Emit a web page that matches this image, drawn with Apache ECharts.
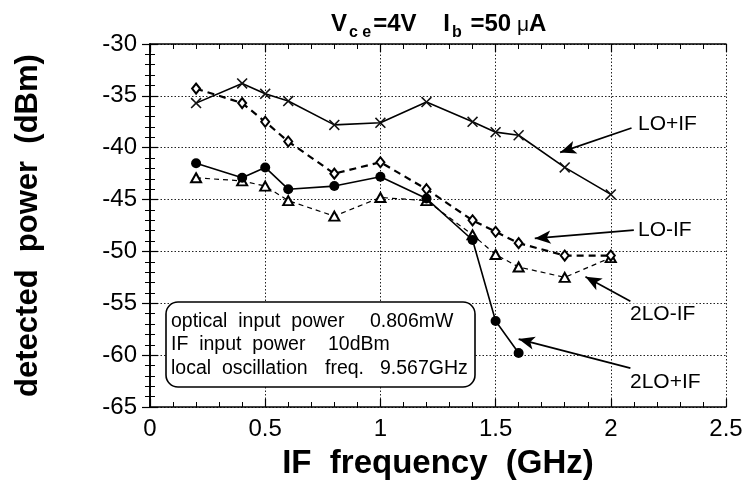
<!DOCTYPE html>
<html>
<head>
<meta charset="utf-8">
<script src="https://cdn.jsdelivr.net/npm/echarts@6/dist/echarts.min.js"></script>
<style>html,body{margin:0;padding:0;background:#fff;}#c{width:748px;height:485px;}</style>
</head>
<body>
<div id="c"></div>
<script>
// ---- data ----
var freqA = [0.2, 0.4, 0.5, 0.6, 0.8, 1.0, 1.2, 1.4, 1.5, 1.6, 1.8, 2.0];
var loPlusIF = [-35.7, -33.8, -34.8, -35.5, -37.8, -37.6, -35.6, -37.5, -38.5, -38.8, -41.9, -44.5];
var loMinusIF = [-34.3, -35.7, -37.5, -39.4, -42.5, -41.4, -44.0, -47.0, -48.1, -49.2, -50.4, -50.4];
var twoLoMinusIF = [-42.9, -43.2, -43.7, -45.1, -46.6, -44.8, -45.1, -48.4, -50.3, -51.5, -52.5, -50.6];
var freqB = [0.2, 0.4, 0.5, 0.6, 0.8, 1.0, 1.2, 1.4, 1.5, 1.6];
var twoLoPlusIF = [-41.5, -42.9, -41.9, -44.0, -43.7, -42.8, -44.9, -48.9, -56.7, -59.8];
var xTicks = ['0', '0.5', '1', '1.5', '2', '2.5'];
var yTicks = ['-65', '-60', '-55', '-50', '-45', '-40', '-35', '-30'];
// annotation arrows: [from, to] in data units
var arrowLOplus = [[2.09, -38.1], [1.78, -40.45]];
var arrowLOminus = [[2.10, -47.95], [1.67, -48.75]];
var arrow2LOminus = [[2.085, -54.8], [1.89, -52.45]];
var arrow2LOplus = [[2.085, -61.25], [1.60, -58.45]];
var infoLine1 = ['optical  input  power', '0.806mW'];
var infoLine2 = ['IF  input  power', '10dBm'];
var infoLine3 = ['local  oscillation', 'freq.', '9.567GHz'];

function pairs(xs, ys) { return xs.map(function (x, i) { return [x, ys[i]]; }); }
function arrow(a) {
  return {
    data: [[{ coord: a[0] }, { coord: a[1] }]],
    symbol: ['none', 'arrow'], symbolSize: [10, 16], silent: true,
    lineStyle: { color: '#000', width: 1.7, type: 'solid' }, label: { show: false }
  };
}

var FONT = 'Liberation Sans, Arial, Helvetica, sans-serif';
var chart = echarts.init(document.getElementById('c'), null, { renderer: 'canvas' });

var baseAxisLine = { show: true, lineStyle: { color: '#000', width: 1.6 } };
var crossPath = 'path://M0,1L1,0L5,4L9,0L10,1L6,5L10,9L9,10L5,6L1,10L0,9L4,5Z';
function infoText(x, y, t) {
  return { type: 'text', x: x, y: y, z: 4, style: { text: t, font: '19.5px ' + FONT, fill: '#000', verticalAlign: 'middle' } };
}

var option = {
  backgroundColor: '#fff',
  animation: false,
  grid: { left: 150, right: 22, top: 44, bottom: 68 },
  xAxis: [{
    type: 'value', min: 0, max: 2.5, interval: 0.5, position: 'bottom',
    name: 'IF  frequency  (GHz)', nameLocation: 'middle', nameGap: 40,
    nameTextStyle: { fontFamily: FONT, fontSize: 33, fontWeight: 'bold', color: '#000' },
    axisLine: baseAxisLine,
    axisTick: { show: true, inside: true, length: 8, lineStyle: { color: '#000', width: 1.2 } },
    minorTick: { show: true, splitNumber: 5, length: 5, lineStyle: { color: '#000', width: 1 } },
    axisLabel: { fontFamily: FONT, fontSize: 24, color: '#000', margin: 10,
      formatter: function (v) { return xTicks[Math.round(v / 0.5)]; } },
    splitLine: { show: true, lineStyle: { color: '#222', width: 1, type: [1.5, 2] } }
  }, {
    type: 'value', min: 0, max: 2.5, interval: 0.5, position: 'top',
    axisLine: baseAxisLine,
    axisTick: { show: true, inside: true, length: 8, lineStyle: { color: '#000', width: 1.2 } },
    minorTick: { show: true, splitNumber: 5, length: 5, lineStyle: { color: '#000', width: 1 } },
    axisLabel: { show: false }, splitLine: { show: false }
  }],
  yAxis: [{
    type: 'value', min: -65, max: -30, interval: 5, position: 'left',
    name: 'detected  power  (dBm)', nameLocation: 'middle', nameGap: 106, nameRotate: 90,
    nameTextStyle: { fontFamily: FONT, fontSize: 31, fontWeight: 'bold', color: '#000' },
    axisLine: baseAxisLine,
    axisTick: { show: true, inside: true, length: 8, lineStyle: { color: '#000', width: 1.2 } },
    minorTick: { show: true, splitNumber: 5, length: 5, lineStyle: { color: '#000', width: 1 } },
    axisLabel: { fontFamily: FONT, fontSize: 24, color: '#000', margin: 13,
      formatter: function (v) { return yTicks[Math.round((v + 65) / 5)]; } },
    splitLine: { show: true, lineStyle: { color: '#222', width: 1, type: [1.5, 2] } }
  }, {
    type: 'value', min: -65, max: -30, interval: 5, position: 'right',
    axisLine: baseAxisLine,
    axisTick: { show: true, inside: true, length: 8, lineStyle: { color: '#000', width: 1.2 } },
    minorTick: { show: true, splitNumber: 5, length: 5, lineStyle: { color: '#000', width: 1 } },
    axisLabel: { show: false }, splitLine: { show: false }
  }],
  series: [{
    name: 'LO+IF', type: 'line', data: pairs(freqA, loPlusIF), z: 5,
    symbol: crossPath, symbolSize: 11, showAllSymbol: true,
    itemStyle: { color: '#111' },
    lineStyle: { color: '#000', width: 1.6, type: 'solid' },
    markLine: arrow(arrowLOplus)
  }, {
    name: 'LO-IF', type: 'line', data: pairs(freqA, loMinusIF), z: 4,
    symbol: 'emptyDiamond', symbolSize: [8, 10],
    itemStyle: { color: '#000', borderWidth: 1.2 },
    lineStyle: { color: '#000', width: 2.2, type: [7, 5] },
    markLine: arrow(arrowLOminus)
  }, {
    name: '2LO-IF', type: 'line', data: pairs(freqA, twoLoMinusIF), z: 3,
    symbol: 'emptyTriangle', symbolSize: [10, 9],
    itemStyle: { color: '#000', borderWidth: 1.2 },
    lineStyle: { color: '#000', width: 1.2, type: [5, 4] },
    markLine: arrow(arrow2LOminus)
  }, {
    name: '2LO+IF', type: 'line', data: pairs(freqB, twoLoPlusIF), z: 6,
    symbol: 'circle', symbolSize: 10,
    itemStyle: { color: '#000' },
    lineStyle: { color: '#000', width: 1.6, type: 'solid' },
    markLine: arrow(arrow2LOplus)
  }],
  graphic: [
    { type: 'text', x: 331, y: 6, z: 10,
      style: {
        text: '{b|V}{s|c e}{b|=4V    I}{s|b}{b| =50}{m| μ}{b|A}',
        rich: {
          b: { fontFamily: FONT, fontSize: 24, fontWeight: 'bold', fill: '#000', verticalAlign: 'bottom', lineHeight: 30 },
          s: { fontFamily: FONT, fontSize: 16, fontWeight: 'bold', fill: '#000', verticalAlign: 'bottom', padding: [0, 2, -5, 2], lineHeight: 30 },
          m: { fontFamily: FONT, fontSize: 21, fill: '#000', verticalAlign: 'bottom', lineHeight: 30 }
        }
      }
    },
    // info box
    { type: 'rect', shape: { x: 166, y: 302, width: 309, height: 85, r: 12 }, z: 3,
      style: { fill: '#fff', stroke: '#000', lineWidth: 1.6 } },
    infoText(171, 322, infoLine1[0]),
    infoText(370, 322, infoLine1[1]),
    infoText(171, 345, infoLine2[0]),
    infoText(328, 345, infoLine2[1]),
    infoText(171, 369, infoLine3[0]),
    infoText(325, 369, infoLine3[1]),
    infoText(380, 369, infoLine3[2]),
    // series annotations
    { type: 'text', x: 638, y: 124, z: 4, style: { text: 'LO+IF', font: '21px ' + FONT, fill: '#000', verticalAlign: 'middle', backgroundColor: '#fff' } },
    { type: 'text', x: 638, y: 230, z: 4, style: { text: 'LO-IF', font: '21px ' + FONT, fill: '#000', verticalAlign: 'middle', backgroundColor: '#fff' } },
    { type: 'text', x: 630, y: 314, z: 4, style: { text: '2LO-IF', font: '21px ' + FONT, fill: '#000', verticalAlign: 'middle', backgroundColor: '#fff' } },
    { type: 'text', x: 630, y: 382, z: 4, style: { text: '2LO+IF', font: '21px ' + FONT, fill: '#000', verticalAlign: 'middle', backgroundColor: '#fff' } }
  ]
};
chart.setOption(option);
</script>
</body>
</html>
